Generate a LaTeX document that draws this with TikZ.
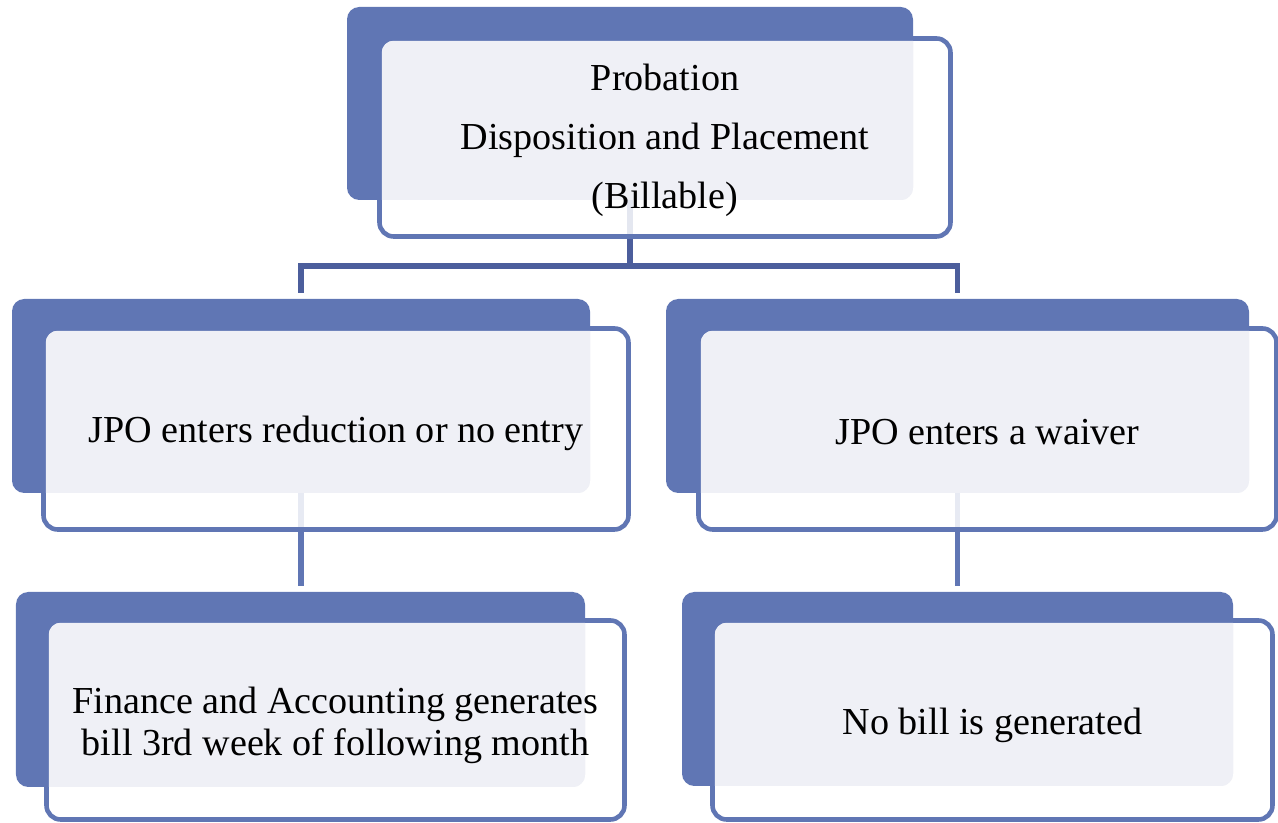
\documentclass[tikz,border=0pt]{standalone}
\usepackage{fontspec}
\setmainfont{Liberation Serif}
\usepackage{tikz}
\usetikzlibrary{positioning, backgrounds, calc}
\definecolor{boxblue}{RGB}{96, 118, 180}
\definecolor{linkblue}{RGB}{76, 94, 156}
\definecolor{paleblue}{RGB}{239, 240, 246}

\begin{document}
\begin{tikzpicture}[
    back/.style={rectangle, fill=boxblue, rounded corners=7pt,
                 inner sep=0pt, outer sep=0pt},
    front/.style={rectangle, draw=boxblue, line width=2.6pt, fill=white,
                  fill opacity=0.85, rounded corners=8pt,
                  inner sep=0pt, outer sep=0pt},
    txt/.style={align=center, font=\fontsize{21.7}{24}\selectfont, text=black},
    link/.style={line width=3pt, linkblue, shorten >=3.5pt},
    sublink/.style={line width=3pt, boxblue, shorten >=3.5pt}
]
\useasboundingbox (0,0) rectangle (25.56,16.46);

% Back panels
\node[back, minimum width=11.32cm, minimum height=3.86cm] (topb)    at (12.60,14.39) {};
\node[back, minimum width=11.56cm, minimum height=3.88cm] (leftb)   at ( 6.02, 8.54) {};
\node[back, minimum width=11.66cm, minimum height=3.88cm] (rightb)  at (19.15, 8.54) {};
\node[back, minimum width=11.38cm, minimum height=3.90cm] (billb)   at ( 6.01, 2.67) {};
\node[back, minimum width=11.02cm, minimum height=3.88cm] (nobillb) at (19.15, 2.68) {};

% Front panels
\node[front, minimum width=11.42cm, minimum height=3.96cm] (topf)    at (13.30,13.71) {};
\node[front, minimum width=11.70cm, minimum height=4.02cm] (leftf)   at ( 6.72, 7.88) {};
\node[front, minimum width=11.56cm, minimum height=4.02cm] (rightf)  at (19.75, 7.88) {};
\node[front, minimum width=11.56cm, minimum height=3.98cm] (billf)   at ( 6.71, 2.06) {};
\node[front, minimum width=11.20cm, minimum height=3.98cm] (nobillf) at (19.85, 2.06) {};

% Shaded overlap of each pair
\foreach \b/\f in {topb/topf, leftb/leftf, rightb/rightf, billb/billf, nobillb/nobillf}{
  \begin{scope}
    \clip[rounded corners=7pt] (\b.north west) rectangle (\b.south east);
    \fill[paleblue, rounded corners=6.7pt]
      ([shift={(1.3pt,-1.3pt)}]\f.north west) rectangle ([shift={(-1.3pt,1.3pt)}]\f.south east);
  \end{scope}
}

% Labels
\node[txt, yshift=-0.06cm] (topt)    at (topf)    {Probation\\[9.5pt]Disposition and Placement\\[9.5pt](Billable)};
\node[txt, yshift=-0.08cm] (leftt)   at (leftf)   {JPO enters reduction or no entry};
\node[txt, yshift=-0.06cm] (rightt)  at (rightf)  {JPO enters a waiver};
\node[txt, yshift=-0.1cm]  (billt)   at (billf)   {Finance and Accounting generates\\bill 3rd week of following month};
\node[txt, yshift=-0.1cm]  (nobillt) at (nobillf) {No bill is generated};

% Connectors
\begin{scope}[on background layer]
\draw[link] (topb.south) -- ++(0,-1.32) -| (leftb.north);
\draw[link] (topb.south) -- ++(0,-1.32) -| (rightb.north);
\draw[sublink] (leftb.south) -- (leftb.south |- billb.north);
\draw[sublink] (rightb.south) -- (rightb.south |- nobillb.north);
\end{scope}

\end{tikzpicture}
\end{document}
